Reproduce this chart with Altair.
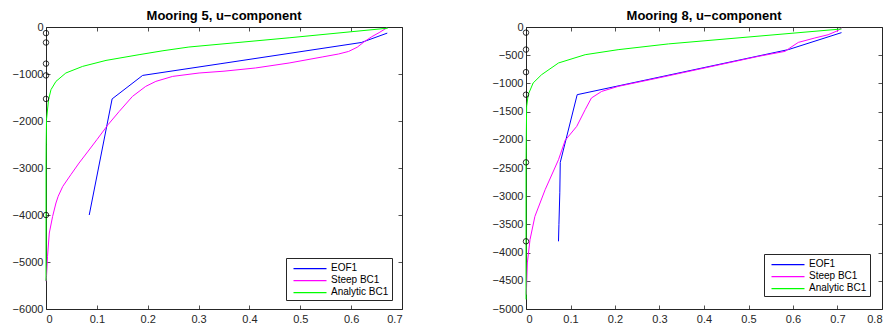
import altair as alt
import pandas as pd

series_names = ["EOF1", "Steep BC1", "Analytic BC1"]
series_colors = ["#0000ff", "#ff00ff", "#00ff00"]

# ---------------- Mooring 5 ----------------
m5_eof_u = [0.671, 0.620, 0.344, 0.190, 0.130, 0.085]
m5_eof_z = [-130, -330, -780, -1030, -1530, -4000]

m5_steep_u = [0.670, 0.655, 0.640, 0.625, 0.612, 0.595, 0.575, 0.543, 0.478, 0.412,
              0.350, 0.301, 0.249, 0.216, 0.196, 0.170, 0.144, 0.122, 0.100, 0.083,
              0.065, 0.049, 0.033, 0.024, 0.0196, 0.013, 0.0065, 0.003, 0.001, 0.0]
m5_steep_z = [-20, -120, -210, -320, -430, -520, -575, -638, -766, -872,
              -940, -979, -1051, -1157, -1264, -1477, -1796, -2079, -2398, -2640,
              -2894, -3140, -3391, -3600, -3745, -4030, -4383, -4880, -5306, -5410]

m5_ana_u = [0.672, 0.478, 0.281, 0.230, 0.183, 0.118, 0.072, 0.039, 0.0196, 0.0098,
            0.005, 0.001, 0.0003, 0.0, 0.0]
m5_ana_z = [-25, -230, -426, -505, -589, -711, -838, -979, -1157, -1334,
            -1547, -1972, -2500, -3000, -5400]

m5_moor_z = [-130, -330, -780, -1030, -1530, -4000]

# ---------------- Mooring 8 ----------------
m8_eof_u = [0.709, 0.590, 0.3525, 0.115, 0.077, 0.076, 0.074, 0.073]
m8_eof_z = [-100, -400, -800, -1200, -2400, -2930, -3500, -3800]

m8_steep_u = [0.709, 0.702, 0.679, 0.649, 0.612, 0.593, 0.582, 0.522, 0.297, 0.207,
              0.170, 0.147, 0.133, 0.114, 0.088, 0.073, 0.043, 0.020, 0.009, 0.003, 0.0007]
m8_steep_z = [-18, -60, -137, -195, -273, -372, -432, -521, -904, -1053,
              -1142, -1259, -1466, -1762, -2010, -2353, -2885, -3358, -3771, -4184, -4746]

m8_ana_u = [0.709, 0.320, 0.207, 0.133, 0.073, 0.035, 0.016, 0.005, 0.0015, 0.0005, 0.0, 0.0]
m8_ana_z = [-35, -300, -402, -491, -638, -846, -993, -1200, -1407, -2000, -2500, -4830]

m8_moor_z = [-100, -400, -800, -1200, -2400, -3800]

m5_xticks = [0, 0.1, 0.2, 0.3, 0.4, 0.5, 0.6, 0.7]
m5_yticks = [-6000, -5000, -4000, -3000, -2000, -1000, 0]
m8_xticks = [0, 0.1, 0.2, 0.3, 0.4, 0.5, 0.6, 0.7, 0.8]
m8_yticks = [-5000, -4500, -4000, -3500, -3000, -2500, -2000, -1500, -1000, -500, 0]

FONT = "Liberation Sans"
INK = "#262626"


def build_df(eof_u, eof_z, steep_u, steep_z, ana_u, ana_z):
    rows = []
    for name, us, zs in [(series_names[0], eof_u, eof_z),
                         (series_names[1], steep_u, steep_z),
                         (series_names[2], ana_u, ana_z)]:
        for i, (u, z) in enumerate(zip(us, zs)):
            rows.append({"series": name, "u": u, "z": z, "idx": i})
    return pd.DataFrame(rows)


def make_panel(title, df, moor_z, xmax, xticks, ymin, yticks, lx, ly):
    xs = alt.Scale(domain=[0, xmax], nice=False, zero=False)
    ys = alt.Scale(domain=[ymin, 0], nice=False, zero=False)
    common = dict(offset=-4, tickSize=4, domain=False, grid=False,
                  tickColor=INK, tickWidth=0.8, title=None)
    lines = alt.Chart(df).mark_line(strokeWidth=1).encode(
        x=alt.X("u:Q", scale=xs,
                axis=alt.Axis(orient="bottom", values=xticks, format=".1~f",
                              labelPadding=4, **common)),
        y=alt.Y("z:Q", scale=ys,
                axis=alt.Axis(orient="left", values=yticks, format="d",
                              labelPadding=3, **common)),
        color=alt.Color("series:N",
                        scale=alt.Scale(domain=series_names, range=series_colors),
                        legend=alt.Legend(orient="none", legendX=lx, legendY=ly,
                                          title=None)),
        order=alt.Order("idx:Q"),
    )
    moor_df = pd.DataFrame({"u": [0.0] * len(moor_z), "z": moor_z})
    circ = alt.Chart(moor_df).mark_point(shape="circle", filled=False,
                                         color="black", size=30,
                                         strokeWidth=0.8, opacity=1).encode(
        x=alt.X("u:Q", scale=xs,
                axis=alt.Axis(orient="top", values=xticks, labels=False, **common)),
        y=alt.Y("z:Q", scale=ys,
                axis=alt.Axis(orient="right", values=yticks, labels=False, **common)),
    )
    return alt.layer(lines, circ).resolve_axis(
        x="independent", y="independent"
    ).properties(
        width=356, height=282,
        title=alt.Title(title, fontSize=13, fontWeight="bold", font=FONT,
                        color="black", offset=-2),
    )


df5 = build_df(m5_eof_u, m5_eof_z, m5_steep_u, m5_steep_z, m5_ana_u, m5_ana_z)
df8 = build_df(m8_eof_u, m8_eof_z, m8_steep_u, m8_steep_z, m8_ana_u, m8_ana_z)

p5 = make_panel("Mooring 5, u\u2212component", df5, m5_moor_z, 0.7, m5_xticks,
                -6000, m5_yticks, 240, 231)
p8 = make_panel("Mooring 8, u\u2212component", df8, m8_moor_z, 0.8, m8_xticks,
                -5000, m8_yticks, 238, 227)

chart = alt.hconcat(p5, p8, spacing=124, bounds="flush").resolve_scale(
    color="independent"
).resolve_legend(color="independent").properties(
    padding={"left": 11, "top": 9, "right": 5, "bottom": 5},
    background="white",
).configure_view(
    stroke=INK, strokeWidth=1
).configure_axis(
    labelFont=FONT, labelFontSize=11, labelColor=INK
).configure_legend(
    strokeColor=INK, fillColor="white", padding=3, rowPadding=0,
    symbolType="M-2.75,0.09L2.75,0.09", symbolSize=144, symbolStrokeWidth=1.3,
    symbolOpacity=1,
    labelFont=FONT, labelFontSize=10, labelColor="black",
    labelOffset=14, symbolOffset=14, cornerRadius=0,
)

chart.save("out.html", embed_options={"renderer": "svg", "actions": False})
